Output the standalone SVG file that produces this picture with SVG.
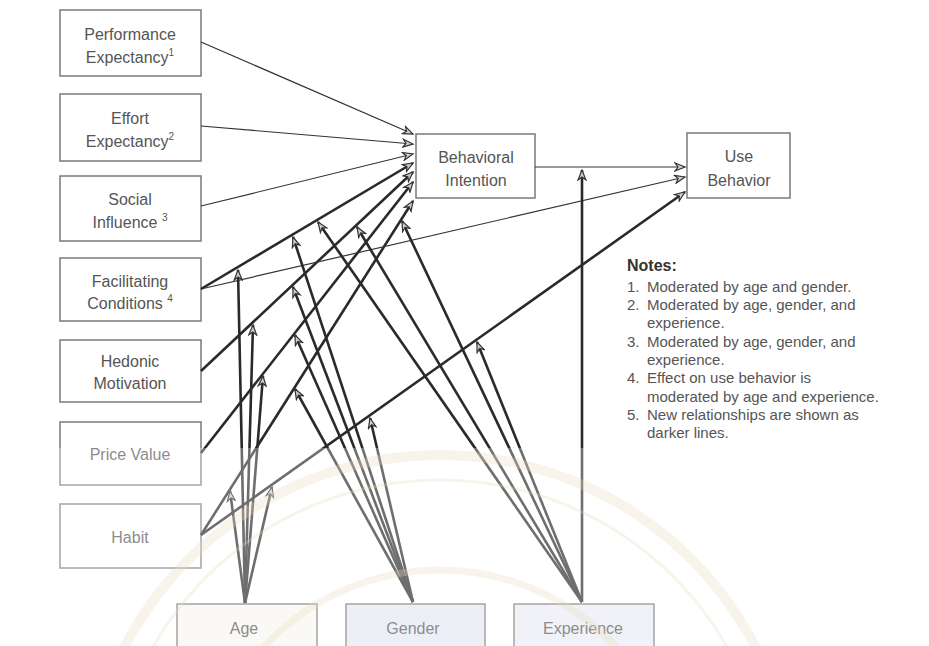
<svg xmlns="http://www.w3.org/2000/svg" width="929" height="646" viewBox="0 0 929 646">
<defs>
<style>
.box{fill:#fff;stroke:#7a7a7a;stroke-width:1.5}
.lbl{font-family:"Liberation Sans",Arial,sans-serif;font-size:16px;fill:#555;text-anchor:middle}
.thin{stroke:#333;stroke-width:1.2;fill:none;marker-end:url(#ah)}
.thick{stroke:#2a2a2a;stroke-width:2.6;fill:none;marker-end:url(#ah)}
.note{font-family:"Liberation Sans",Arial,sans-serif;font-size:15px;fill:#555}
.wm{fill:none;stroke:#eadcbc}
</style>
<marker id="ah" markerWidth="13" markerHeight="10" refX="11" refY="5" orient="auto" markerUnits="userSpaceOnUse">
<path d="M1,1 L11,5 L1,9 L4,5 Z" fill="#cfcfcf" stroke="#333" stroke-width="1.2" stroke-linejoin="miter"/>
</marker>
</defs>
<rect width="929" height="646" fill="#fff"/>

<g id="nodes">
<g id="pe"><rect class="box" x="60" y="10" width="141" height="66"/>
<text class="lbl" x="130" y="40">Performance</text>
<text class="lbl" x="130" y="63">Expectancy<tspan font-size="10" dy="-7">1</tspan></text></g>
<g id="ee"><rect class="box" x="60" y="94" width="141" height="67"/>
<text class="lbl" x="130" y="124">Effort</text>
<text class="lbl" x="130" y="147">Expectancy<tspan font-size="10" dy="-7">2</tspan></text></g>
<g id="si"><rect class="box" x="60" y="176" width="141" height="65"/>
<text class="lbl" x="130" y="205">Social</text>
<text class="lbl" x="130" y="228">Influence <tspan font-size="10" dy="-7">3</tspan></text></g>
<g id="fc"><rect class="box" x="60" y="258" width="141" height="63"/>
<text class="lbl" x="130" y="287">Facilitating</text>
<text class="lbl" x="130" y="309">Conditions <tspan font-size="10" dy="-7">4</tspan></text></g>
<g id="hm"><rect class="box" x="60" y="340" width="141" height="62"/>
<text class="lbl" x="130" y="367">Hedonic</text>
<text class="lbl" x="130" y="389">Motivation</text></g>
<g id="pv"><rect class="box" x="60" y="422" width="141" height="63"/>
<text class="lbl" x="130" y="460">Price Value</text></g>
<g id="ht"><rect class="box" x="60" y="504" width="141" height="64"/>
<text class="lbl" x="130" y="543">Habit</text></g>
<g id="bi"><rect class="box" x="416" y="134" width="119" height="64"/>
<text class="lbl" x="476" y="163">Behavioral</text>
<text class="lbl" x="476" y="186">Intention</text></g>
<g id="ub"><rect class="box" x="687" y="133" width="103" height="65"/>
<text class="lbl" x="739" y="162">Use</text>
<text class="lbl" x="739" y="186">Behavior</text></g>
<g id="age"><rect class="box" x="177" y="604" width="140" height="50" style="fill:#f8f6f1"/>
<text class="lbl" x="244" y="634">Age</text></g>
<g id="gender"><rect class="box" x="346" y="604" width="139" height="50" style="fill:#e4e9f2"/>
<text class="lbl" x="413" y="634">Gender</text></g>
<g id="experience"><rect class="box" x="514" y="604" width="140" height="50" style="fill:#e9ecf3"/>
<text class="lbl" x="583" y="634">Experience</text></g>
</g>

<g id="connectors">
<line class="thin" x1="201" y1="42" x2="413" y2="134"/>
<line class="thin" x1="201" y1="126" x2="413" y2="144"/>
<line class="thin" x1="201" y1="206" x2="413" y2="154"/>
<line class="thick" x1="201" y1="289" x2="413" y2="163"/>
<line class="thick" x1="201" y1="371" x2="413" y2="172"/>
<line class="thick" x1="201" y1="453" x2="413" y2="182"/>
<line class="thick" x1="201" y1="535" x2="413" y2="201"/>
<line class="thin" x1="201" y1="289" x2="685" y2="177"/>
<line class="thick" x1="201" y1="535" x2="685" y2="192"/>
<line class="thin" x1="535" y1="167" x2="685" y2="167"/>
<line class="thick" x1="245" y1="603" x2="238" y2="270"/>
<line class="thick" x1="245" y1="603" x2="253" y2="325"/>
<line class="thick" x1="245" y1="603" x2="263" y2="376"/>
<line class="thick" x1="245" y1="603" x2="230" y2="491"/>
<line class="thick" x1="245" y1="603" x2="272" y2="487"/>
<line class="thick" x1="413" y1="602" x2="293" y2="237"/>
<line class="thick" x1="413" y1="602" x2="293" y2="287"/>
<line class="thick" x1="413" y1="602" x2="295" y2="335"/>
<line class="thick" x1="413" y1="602" x2="295" y2="389"/>
<line class="thick" x1="413" y1="602" x2="370" y2="418"/>
<line class="thick" x1="582" y1="602" x2="318" y2="222"/>
<line class="thick" x1="582" y1="602" x2="357" y2="227"/>
<line class="thick" x1="582" y1="602" x2="402" y2="221"/>
<line class="thick" x1="582" y1="602" x2="477" y2="342"/>
<line class="thick" x1="582" y1="602" x2="582" y2="170"/>
</g>

<g id="notes">
<text class="note" x="627" y="271" style="font-weight:bold;font-size:16px;fill:#333">Notes:</text>
<text class="note" x="627" y="292">1.</text><text class="note" x="647" y="292">Moderated by age and gender.</text>
<text class="note" x="627" y="310">2.</text><text class="note" x="647" y="310">Moderated by age, gender, and</text>
<text class="note" x="647" y="328">experience.</text>
<text class="note" x="627" y="347">3.</text><text class="note" x="647" y="347">Moderated by age, gender, and</text>
<text class="note" x="647" y="365">experience.</text>
<text class="note" x="627" y="383">4.</text><text class="note" x="647" y="383">Effect on use behavior is</text>
<text class="note" x="647" y="402">moderated by age and experience.</text>
<text class="note" x="627" y="420">5.</text><text class="note" x="647" y="420">New relationships are shown as</text>
<text class="note" x="647" y="438">darker lines.</text>
</g>

<g id="watermark">
<rect x="0" y="448" width="929" height="198" fill="#fff" opacity="0.32"/>
<circle class="wm" cx="440" cy="810" r="355" stroke-width="10" opacity="0.3"/>
<circle class="wm" cx="440" cy="810" r="330" stroke-width="3" opacity="0.3"/>
<circle class="wm" cx="440" cy="810" r="240" stroke-width="7" opacity="0.3"/>
</g>
</svg>
